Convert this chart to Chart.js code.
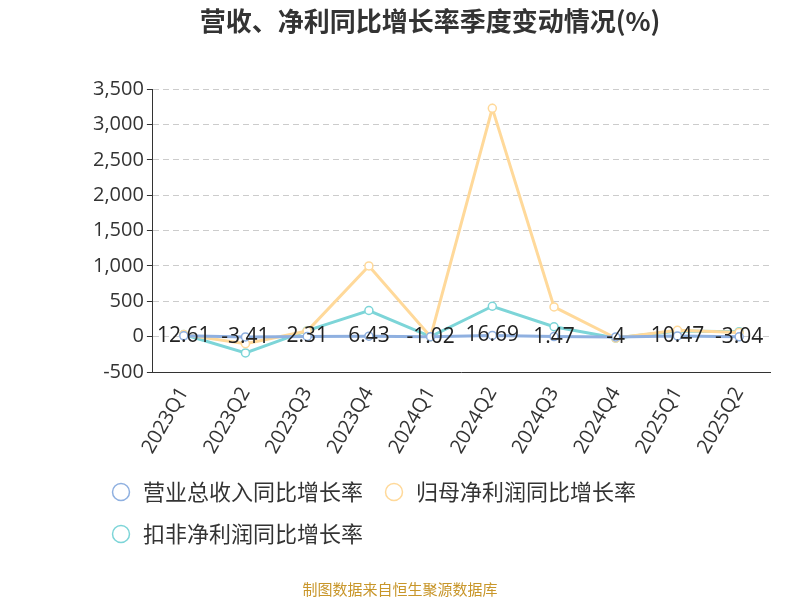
<!DOCTYPE html><html><head><meta charset="utf-8">
<script src="https://cdn.jsdelivr.net/npm/chart.js@4"></script>
<style>body{margin:0;background:#fff}#w{width:800px;height:600px;position:relative}
#src{position:absolute;left:0;width:800px;top:578px;text-align:center;font:15px "Noto Sans CJK SC";color:#c8962a}</style></head>
<body><div id="w"><canvas id="c" width="800" height="600"></canvas><div id="src">制图数据来自恒生聚源数据库</div></div>
<script>
const categories=['2023Q1','2023Q2','2023Q3','2023Q4','2024Q1','2024Q2','2024Q3','2024Q4','2025Q1','2025Q2'];
const revenue=[12.61,-3.41,2.31,6.43,-1.02,16.69,1.47,-4,10.47,-3.04];
const netProfit=[30,-100,80,1000,0,3230,420,-20,90,60];
const deductedProfit=[30,-230,85,370,0,430,140,-20,80,70];
const revenueLabels=['12.61','-3.41','2.31','6.43','-1.02','16.69','1.47','-4','10.47','-3.04'];
const F='"Open Sans","Noto Sans CJK SC",sans-serif';
const labelPlugin={id:'lbl',afterDatasetsDraw(ch){const m=ch.getDatasetMeta(0),x=ch.ctx;x.save();x.font='21px '+F;x.fillStyle='#222';x.textAlign='center';x.textBaseline='middle';
m.data.forEach((p,i)=>x.fillText(revenueLabels[i],p.x,p.y));x.restore();}};
const ds=(l,d,c)=>({label:l,data:d,borderColor:c,backgroundColor:'#fff',borderWidth:3,pointRadius:4,pointBorderWidth:1.5,pointBackgroundColor:'#fff',tension:0});
new Chart(document.getElementById('c'),{type:'line',
data:{labels:categories,datasets:[ds('营业总收入同比增长率',revenue,'#8fb0e0'),ds('归母净利润同比增长率',netProfit,'#ffd99a'),ds('扣非净利润同比增长率',deductedProfit,'#7dd5d8')]},
options:{responsive:false,animation:false,
layout:{padding:{left:90,right:30,top:0,bottom:45}},
plugins:{title:{display:true,text:'营收、净利同比增长率季度变动情况(%)',font:{family:'"Noto Sans CJK SC"',size:26,weight:'bold'},color:'#333',padding:{top:6,bottom:52}},
legend:{position:'bottom',align:'start',labels:{usePointStyle:true,pointStyle:'circle',boxWidth:24,boxHeight:12,padding:20,font:{family:'"Noto Sans CJK SC"',size:22},color:'#333'}},tooltip:{enabled:false}},
scales:{y:{min:-500,max:3500,ticks:{stepSize:500,font:{family:F,size:20},color:'#333',callback:v=>v.toLocaleString('en-US')},
grid:{color:'#ccc',drawTicks:true,tickLength:6,tickColor:'#333'},border:{display:true,color:'#333',dash:[6,4]}},
x:{offset:true,ticks:{font:{family:F,size:20},color:'#333',maxRotation:60,minRotation:60},grid:{display:false},border:{color:'#333'}}}},
plugins:[labelPlugin]});
</script></body></html>
